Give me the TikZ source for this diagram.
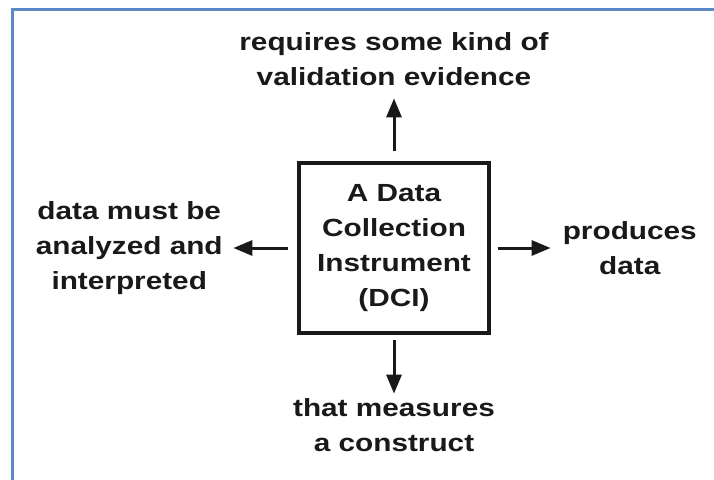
\documentclass[tikz,border=0pt]{standalone}
\usepackage{fontspec}
\setmainfont[FakeStretch=1.2]{Liberation Sans}
\usepackage{tikz}
\usetikzlibrary{positioning, arrows.meta}

\definecolor{framecol}{RGB}{92,136,200}
\definecolor{inkcol}{RGB}{25,25,25}

\begin{document}
\begin{tikzpicture}[
    x=1pt, y=1pt,
    	box/.style={rectangle, draw=inkcol, line width=3.2pt, minimum width=190pt, minimum height=170pt, inner sep=0pt, align=center},
    	lbl/.style={inner sep=0pt, align=center},
    	arr/.style={draw=inkcol, line width=3pt, -{Triangle[length=19pt, width=15pt]}},
    	every node/.style={text=inkcol, font=\bfseries\fontsize{24.8}{35}\selectfont},
    ]
    \useasboundingbox (0,0) rectangle (714,-479);
    % Frame
    \draw[framecol, line width=3pt] (720,-9.5) -- (12.5,-9.5) -- (12.5,-485);
    % Instrument
    \node[box] (dci) at (394,-248) {A Data\\Collection\\Instrument\\(DCI)};
    % Labels round it
    \node[lbl, above=75pt of dci] (evid) {requires some kind of\\validation evidence};
    \node[lbl, left=74.5pt of dci] (anal) {data must be\\analyzed and\\interpreted};
    \node[lbl, right=72pt of dci] (prod) {produces\\data};
    \node[lbl, below=64pt of dci] (meas) {that measures\\a construct};
    % Edges
    \draw[arr, shorten <=10pt, shorten >=12pt] (dci.north) -- (evid.south);
    \draw[arr, shorten <=9pt, shorten >=10.5pt] (dci.west) -- (anal.east);
    \draw[arr, shorten <=7pt, shorten >=12pt] (dci.east) -- (prod.west);
    \draw[arr, shorten <=5pt, shorten >=5pt] (dci.south) -- (meas.north);
\end{tikzpicture}
\end{document}
